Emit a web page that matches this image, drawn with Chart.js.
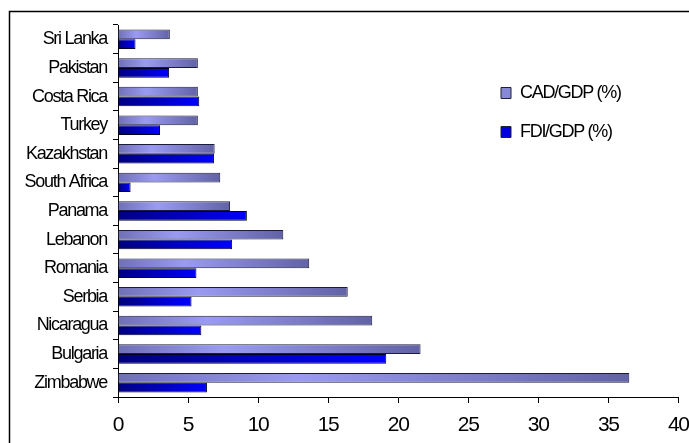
<!DOCTYPE html>
<html>
<head>
<meta charset="utf-8">
<script src="https://cdn.jsdelivr.net/npm/chart.js@4/dist/chart.umd.min.js"></script>
<style>
  html, body { margin: 0; padding: 0; background: #fff; overflow: hidden; }
  #wrap { position: relative; width: 700px; height: 443px; }
</style>
</head>
<body>
<div id="wrap"><canvas id="chart" width="700" height="443"></canvas></div>
<script>
// values
const countries = ['Sri Lanka', 'Pakistan', 'Costa Rica', 'Turkey', 'Kazakhstan', 'South Africa',
    'Panama', 'Lebanon', 'Romania', 'Serbia', 'Nicaragua', 'Bulgaria', 'Zimbabwe'];
const cadGdp = [3.7, 5.7, 5.7, 5.7, 6.9, 7.3, 8.0, 11.8, 13.65, 16.4, 18.15, 21.6, 36.5];
const fdiGdp = [1.25, 3.65, 5.8, 3.0, 6.85, 0.9, 9.2, 8.15, 5.6, 5.25, 5.95, 19.15, 6.35];
const seriesNames = ['CAD/GDP (%)', 'FDI/GDP (%)'];
const xTicks = [0, 5, 10, 15, 20, 25, 30, 35, 40];

const FONT = 'Arial, "Liberation Sans", sans-serif';

// gradient runs along each bar, from the axis to the bar end
function barGradient(stops, solid) {
    return (ctx) => {
        const chart = ctx.chart;
        const xs = chart.scales.x;
        if (ctx.type !== 'data' || !xs) return solid;
        const x0 = xs.getPixelForValue(0);
        const x1 = xs.getPixelForValue(ctx.raw);
        if (!isFinite(x0) || !isFinite(x1) || x1 - x0 < 1) return solid;
        const g = chart.ctx.createLinearGradient(x0, 0, x1, 0);
        stops.forEach(([p, c]) => g.addColorStop(p, c));
        return g;
    };
}

const framePlugin = {
    id: 'frame',
    beforeDraw(chart) {
        const c = chart.ctx;
        c.letterSpacing = '-1.3px';
        c.save();
        c.strokeStyle = '#000';
        c.lineWidth = 1.5;
        c.strokeRect(9.5, 11.5, 900, 900);
        c.restore();
    },
    afterLayout(chart) {
        // legend sits inside the plot, on the right
        const lg = chart.legend;
        if (lg) {
            lg.left = 480;
            lg.top = 63;
        }
    }
};

new Chart(document.getElementById('chart'), {
    type: 'bar',
    data: {
        labels: countries,
        datasets: [
            {
                label: seriesNames[0],
                data: cadGdp,
                backgroundColor: barGradient([[0, '#7070b6'], [0.35, '#9a9af2'], [1, '#6262a6']], '#8585d8'),
                borderColor: '#1c1c3a',
                borderWidth: 1,
                categoryPercentage: 0.68,
                barPercentage: 1.0
            },
            {
                label: seriesNames[1],
                data: fdiGdp,
                backgroundColor: barGradient([[0, '#000080'], [1, '#0000ff']], '#0000d0'),
                borderColor: '#000020',
                borderWidth: 1,
                categoryPercentage: 0.68,
                barPercentage: 1.0
            }
        ]
    },
    options: {
        indexAxis: 'y',
        responsive: false,
        animation: false,
        layout: { padding: { top: 25, left: 0, right: 18, bottom: 0 } },
        plugins: {
            title: { display: false },
            tooltip: { enabled: false },
            legend: {
                position: 'chartArea',
                align: 'start',
                labels: {
                    color: '#000',
                    font: { family: FONT, size: 18 },
                    boxWidth: 10,
                    boxHeight: 11,
                    padding: 21,
                    generateLabels(chart) {
                        const items = Chart.defaults.plugins.legend.labels.generateLabels(chart);
                        const fills = ['#8888d8', '#0000e0'];
                        items.forEach((it, i) => {
                            it.fillStyle = fills[i];
                            it.strokeStyle = '#202030';
                            it.lineWidth = 1;
                        });
                        return items;
                    }
                }
            }
        },
        scales: {
            x: {
                min: 0,
                max: 40,
                afterBuildTicks(scale) {
                    scale.ticks = xTicks.map(v => ({ value: v }));
                },
                afterFit(scale) { scale.height = 46; },
                ticks: {
                    color: '#000',
                    font: { family: FONT, size: 21 },
                    padding: 10,
                    maxRotation: 0,
                    autoSkip: false
                },
                grid: {
                    display: true,
                    drawOnChartArea: false,
                    drawTicks: true,
                    tickLength: 6,
                    color: '#000'
                },
                border: { display: true, color: '#000', width: 1 }
            },
            y: {
                afterFit(scale) { scale.width = 118; },
                ticks: {
                    color: '#000',
                    font: { family: FONT, size: 18 },
                    padding: 6,
                    autoSkip: false
                },
                grid: {
                    display: true,
                    offset: true,
                    drawOnChartArea: false,
                    drawTicks: true,
                    tickLength: 5,
                    color: '#000'
                },
                border: { display: true, color: '#000', width: 1 }
            }
        }
    },
    plugins: [framePlugin]
});
</script>
</body>
</html>
